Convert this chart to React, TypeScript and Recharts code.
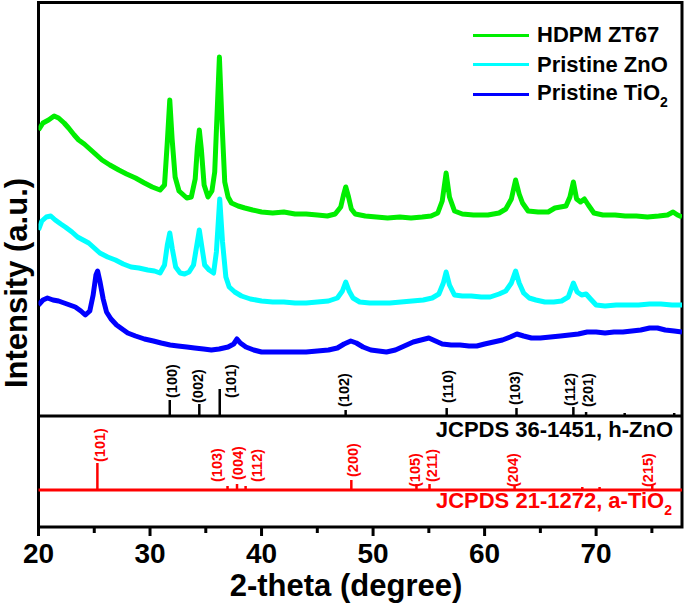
import React from 'react';
import {
  ComposedChart,
  Line,
  XAxis,
  YAxis,
  ReferenceLine,
  ReferenceArea,
  Scatter,
  Legend,
  Label,
} from 'recharts';

const FONT = '"Liberation Sans", Arial, Helvetica, sans-serif';

// x axis (2-theta, degree)
const xDomain: [number, number] = [20, 77.7];
const xTicks = [20, 25, 30, 35, 40, 45, 50, 55, 60, 65, 70, 75];
// y axis (intensity, a.u.)
const yDomain: [number, number] = [0, 524.5];

// ---- measured patterns: [2-theta, intensity] ----
const hdpmZT67: [number, number][] = [
  [20.0, 397], [20.4, 404], [20.9, 407], [21.4, 411], [21.8, 409], [22.3, 404], [22.7, 399],
  [23.2, 392], [23.6, 387], [24.1, 383], [24.5, 379], [25.1, 373], [25.7, 367], [26.4, 362],
  [27.2, 357], [27.9, 353], [28.7, 349], [29.5, 344], [30.2, 340], [30.9, 337], [31.3, 342],
  [31.55, 385], [31.77, 427], [31.98, 388], [32.25, 350], [32.6, 336], [32.9, 333], [33.3, 329],
  [33.7, 330], [34.05, 348], [34.25, 380], [34.42, 397], [34.6, 378], [34.85, 342], [35.2, 330],
  [35.55, 336], [35.8, 355], [36.0, 410], [36.22, 470], [36.45, 405], [36.7, 345], [37.0, 330],
  [37.3, 324], [37.9, 321], [38.5, 319], [39.2, 317], [40.0, 315], [41.0, 314], [42.0, 315],
  [43.0, 313], [44.0, 313], [45.0, 312], [45.9, 311], [46.6, 313], [47.1, 320], [47.35, 332],
  [47.55, 340], [47.8, 330], [48.05, 318], [48.4, 313], [49.3, 311], [50.3, 310], [51.3, 309],
  [52.4, 310], [53.4, 309], [54.4, 310], [55.2, 311], [55.8, 314], [56.2, 326], [56.55, 354],
  [56.85, 330], [57.3, 316], [58.0, 313], [59.0, 312], [60.3, 312], [61.3, 314], [61.9, 318],
  [62.4, 328], [62.78, 347], [63.1, 333], [63.4, 324], [63.9, 316], [64.8, 315], [65.7, 315],
  [66.3, 319], [66.8, 320], [67.3, 321], [67.65, 330], [67.96, 345], [68.25, 328], [68.6, 325],
  [68.95, 328], [69.3, 322], [69.8, 314], [70.6, 312], [71.7, 312], [72.6, 311], [73.6, 311],
  [74.6, 310], [75.6, 311], [76.4, 312], [76.9, 315], [77.3, 312], [77.7, 310],
];

const pristineZnO: [number, number][] = [
  [20.0, 297], [20.3, 306], [20.7, 310], [21.1, 311], [21.5, 307], [22.0, 303], [22.4, 300],
  [23.0, 295], [23.5, 290], [24.0, 287], [24.5, 284], [25.0, 279], [25.5, 274], [26.2, 270],
  [26.9, 267], [27.6, 263], [28.3, 260], [29.0, 259], [29.8, 257], [30.4, 256], [30.9, 254],
  [31.3, 262], [31.55, 282], [31.77, 294], [32.0, 278], [32.3, 260], [32.7, 254], [33.1, 253],
  [33.5, 255], [33.9, 262], [34.2, 282], [34.42, 297], [34.65, 280], [34.9, 262], [35.3, 257],
  [35.7, 254], [35.95, 275], [36.25, 328], [36.5, 285], [36.8, 250], [37.1, 240], [37.6, 235],
  [38.2, 231], [39.0, 228], [40.0, 226], [41.0, 225], [42.0, 225], [43.0, 224], [44.0, 224],
  [45.0, 225], [46.0, 226], [46.8, 229], [47.25, 236], [47.55, 245], [47.85, 236], [48.2, 229],
  [48.8, 225], [49.7, 224], [50.6, 224], [51.5, 224], [52.5, 225], [53.5, 226], [54.5, 227],
  [55.3, 229], [55.9, 233], [56.3, 244], [56.55, 255], [56.85, 242], [57.3, 232], [58.0, 231],
  [58.8, 231], [59.7, 230], [60.5, 230], [61.3, 233], [61.9, 236], [62.4, 244], [62.78, 256],
  [63.1, 244], [63.5, 234], [64.0, 229], [64.6, 227], [65.4, 225], [66.2, 225], [66.9, 226],
  [67.5, 230], [67.96, 244], [68.3, 235], [68.7, 232], [69.1, 233], [69.5, 228], [70.0, 222],
  [70.8, 221], [71.8, 222], [72.8, 222], [73.8, 222], [74.8, 223], [75.8, 223], [76.8, 222],
  [77.7, 222],
];

const pristineTiO2: [number, number][] = [
  [20.0, 222], [20.4, 227], [20.8, 229], [21.3, 227], [21.8, 226], [22.3, 224], [22.8, 222],
  [23.3, 220], [23.8, 216], [24.2, 212], [24.6, 216], [24.9, 232], [25.15, 252], [25.3, 256],
  [25.5, 246], [25.8, 228], [26.1, 215], [26.5, 208], [27.0, 202], [27.5, 198], [28.0, 194],
  [28.7, 191], [29.5, 188], [30.3, 186], [31.0, 184], [31.8, 182], [32.5, 181], [33.3, 180],
  [34.0, 179], [34.8, 178], [35.5, 177], [36.2, 178], [37.0, 180], [37.5, 183], [37.8, 188],
  [38.1, 184], [38.6, 180], [39.3, 177], [40.0, 175], [41.0, 175], [42.0, 175], [43.0, 175],
  [44.0, 175], [45.0, 176], [46.0, 177], [46.8, 179], [47.4, 183], [48.0, 186], [48.5, 184],
  [49.1, 180], [49.8, 177], [50.5, 176], [51.2, 175], [52.0, 177], [52.8, 181], [53.6, 185],
  [54.3, 187], [55.0, 189], [55.6, 186], [56.2, 183], [57.0, 182], [57.8, 182], [58.6, 181],
  [59.3, 181], [60.0, 183], [60.8, 185], [61.6, 187], [62.3, 190], [62.9, 193], [63.5, 191],
  [64.2, 189], [65.0, 189], [65.9, 190], [66.8, 191], [67.6, 192], [68.4, 193], [69.2, 195],
  [70.0, 195], [70.8, 194], [71.6, 195], [72.4, 195], [73.2, 196], [74.0, 197], [74.8, 199],
  [75.5, 199], [76.2, 197], [77.0, 196], [77.7, 195],
];

// ---- reference patterns ----
const znoBase = 111; // JCPDS 36-1451 baseline
const znoSticks: [number, number][] = [
  [31.77, 16], [34.42, 12], [36.25, 27], [47.54, 6], [56.6, 8], [62.86, 8], [67.96, 9],
  [69.1, 4], [72.56, 3], [77.0, 3],
];
const znoLabels = ['(100)', '(002)', '(101)', '(102)', '(110)', '(103)', '(112)', '(201)'];
const znoLabelAt: [number, number][] = [
  [31.93, 129], [34.26, 124], [37.22, 129], [47.35, 120], [56.68, 124], [62.69, 122],
  [67.62, 121], [69.24, 120],
];

const tio2Base = 37; // JCPDS 21-1272 baseline
const tio2Sticks: [number, number][] = [
  [25.28, 27], [36.95, 4], [37.8, 6], [38.57, 4], [48.05, 10], [53.89, 6], [55.06, 6],
  [62.69, 5], [68.76, 3], [70.31, 3], [75.03, 5],
];
const tio2Labels = ['(101)', '(103)', '(004)', '(112)', '(200)', '(105)', '(211)', '(204)', '(215)'];
const tio2LabelAt: [number, number][] = [
  [25.47, 65], [36.05, 45], [37.85, 47], [39.55, 45], [48.16, 50], [53.72, 40], [55.25, 45],
  [62.51, 40], [74.62, 40],
];

const seriesNames = ['HDPM ZT67', 'Pristine ZnO', 'Pristine TiO2'];
const seriesColors = ['#00EE00', '#00FFFF', '#0000FF'];
const seriesData = [hdpmZT67, pristineZnO, pristineTiO2];

const toPoints = (arr: [number, number][]) => arr.map(([t, v]) => ({ t, v }));

const XTick = (props: any) => {
  const { x, y, payload } = props;
  const v = payload.value;
  const major = v % 10 === 0;
  return (
    <g>
      <line x1={x} x2={x} y1={y} y2={y + (major ? 9 : 6)} stroke="#000" strokeWidth={3} />
      {major && (
        <text x={x} y={y + 36} textAnchor="middle" fontSize={28} fontWeight="bold" fontFamily={FONT} fill="#000">
          {v}
        </text>
      )}
    </g>
  );
};

const makeLabelShape = (color: string) => (p: any) => {
  const { cx, cy, payload } = p;
  return (
    <text
      x={cx}
      y={cy}
      transform={`rotate(-90 ${cx} ${cy})`}
      textAnchor="start"
      dominantBaseline="central"
      fontSize={14.5}
      fontWeight="bold"
      fontFamily={FONT}
      fill={color}
    >
      {payload.label}
    </text>
  );
};

const renderLegend = () => (
  <div style={{ fontFamily: FONT, fontWeight: 'bold', fontSize: 22, color: '#000' }}>
    {seriesNames.map((name, i) => (
      <div key={name} style={{ display: 'flex', alignItems: 'center', height: 29.5, lineHeight: '29.5px' }}>
        <span style={{ display: 'inline-block', width: 56, height: 3, background: seriesColors[i], marginRight: 8 }} />
        <span style={{ whiteSpace: 'nowrap' }}>
          {name.endsWith('TiO2') ? (
            <>
              {name.slice(0, -1)}
              <span style={{ fontSize: 14, position: 'relative', top: 7 }}>2</span>
            </>
          ) : (
            name
          )}
        </span>
      </div>
    ))}
  </div>
);

export default function App() {
  return (
    <div style={{ position: 'absolute', left: 0, top: 0, width: 685, height: 603, background: '#fff' }}>
      <ComposedChart
        width={685}
        height={603}
        margin={{ top: 2.5, right: 3, bottom: 0, left: 38.5 }}
      >
        <XAxis
          dataKey="t"
          type="number"
          domain={xDomain}
          ticks={xTicks}
          allowDataOverflow
          height={76}
          tickSize={0}
          tickMargin={0}
          tickLine={false}
          axisLine={false}
          tick={<XTick />}
          interval={0}
        >
          <Label
            content={() => (
              <text x={346} y={596} textAnchor="middle" fontSize={31} fontWeight="bold" fontFamily={FONT} fill="#000">
                2-theta (degree)
              </text>
            )}
          />
          <Label
            content={() => (
              <text
                x={27}
                y={283}
                transform="rotate(-90 27 283)"
                textAnchor="middle"
                fontSize={31}
                fontWeight="bold"
                fontFamily={FONT}
                fill="#000"
              >
                Intensity (a.u.)
              </text>
            )}
          />
        </XAxis>
        <YAxis
          type="number"
          domain={yDomain}
          allowDataOverflow
          width={0}
          tick={false}
          tickLine={false}
          axisLine={false}
        />

        <Legend
          layout="horizontal"
          verticalAlign="middle"
          align="center"
          content={renderLegend}
          wrapperStyle={{ position: 'absolute', left: 473, top: 20.25, width: 212, height: 90 }}
        />

        {/* reference baselines */}
        <ReferenceLine
          y={znoBase}
          stroke="#000"
          strokeWidth={3}
          label={(p: any) => {
            const vb = p.viewBox || {};
            return (
              <text
                x={(vb.x ?? 38.5) + (vb.width ?? 643.5) - 9}
                y={(vb.y ?? 416) + 21}
                textAnchor="end"
                fontSize={22}
                fontWeight="bold"
                fontFamily={FONT}
                fill="#000"
              >
                JCPDS 36-1451, h-ZnO
              </text>
            );
          }}
        />
        <ReferenceLine
          y={tio2Base}
          stroke="#FF0000"
          strokeWidth={3}
          label={(p: any) => {
            const vb = p.viewBox || {};
            return (
              <text
                x={(vb.x ?? 38.5) + (vb.width ?? 643.5) - 10}
                y={(vb.y ?? 490) + 18}
                textAnchor="end"
                fontSize={22}
                fontWeight="bold"
                fontFamily={FONT}
                fill="#FF0000"
              >
                JCPDS 21-1272, a-TiO
                <tspan fontSize={14} dy={7}>2</tspan>
              </text>
            );
          }}
        />

        {znoSticks.map(([t, h]) => (
          <ReferenceLine
            key={`z${t}`}
            segment={[{ x: t, y: znoBase }, { x: t, y: znoBase + h }]}
            stroke="#000"
            strokeWidth={2.5}
          />
        ))}
        {tio2Sticks.map(([t, h]) => (
          <ReferenceLine
            key={`t${t}`}
            segment={[{ x: t, y: tio2Base }, { x: t, y: tio2Base + h }]}
            stroke="#FF0000"
            strokeWidth={2.5}
          />
        ))}

        <Scatter
          name="ZnO hkl"
          data={znoLabels.map((label, i) => ({ t: znoLabelAt[i][0], v: znoLabelAt[i][1], label }))}
          dataKey="v"
          shape={makeLabelShape('#000')}
          isAnimationActive={false}
          legendType="none"
        />
        <Scatter
          name="TiO2 hkl"
          data={tio2Labels.map((label, i) => ({ t: tio2LabelAt[i][0], v: tio2LabelAt[i][1], label }))}
          dataKey="v"
          shape={makeLabelShape('#FF0000')}
          isAnimationActive={false}
          legendType="none"
        />

        {seriesData.map((s, i) => (
          <Line
            key={seriesNames[i]}
            name={seriesNames[i]}
            data={toPoints(s)}
            dataKey="v"
            type="linear"
            stroke={seriesColors[i]}
            strokeWidth={5}
            strokeLinejoin="round"
            dot={false}
            activeDot={false}
            isAnimationActive={false}
          />
        ))}

        {/* frame */}
        <ReferenceArea
          x1={xDomain[0]}
          x2={xDomain[1]}
          y1={yDomain[0]}
          y2={yDomain[1]}
          fill="none"
          fillOpacity={0}
          stroke="#000"
          strokeWidth={3}
        />
      </ComposedChart>
    </div>
  );
}
